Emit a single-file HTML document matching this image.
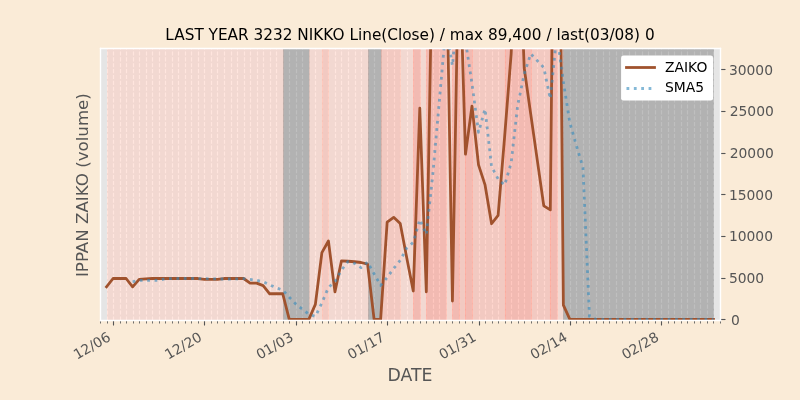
<!DOCTYPE html>
<html><head><meta charset="utf-8"><title>chart</title>
<style>html,body{margin:0;padding:0;background:#faebd7;overflow:hidden}svg{display:block}</style></head>
<body>
<svg width="800" height="400" viewBox="0 0 576 288" version="1.1">
 
 <defs>
  <style type="text/css">*{stroke-linejoin: round; stroke-linecap: butt}</style>
 </defs>
 <g id="figure_1">
  <g id="patch_1">
   <path d="M 0 288 
L 576 288 
L 576 0 
L 0 0 
z
" style="fill: #faebd7"/>
  </g>
  <g id="axes_1">
   <g id="patch_2">
    <path d="M 72 230.4 
L 518.4 230.4 
L 518.4 34.56 
L 72 34.56 
z
" style="fill: #e5e5e5"/>
   </g>
   <g id="matplotlib.axis_1">
    <g id="xtick_1">
     <g id="line2d_1">
      <path d="M 81.72 230.76 L 81.72 34.92" clip-path="url(#pfc433cfe13)" style="fill: none; stroke-dasharray: 2.96,1.28; stroke-dashoffset: 0; stroke: #ffffff; stroke-width: 0.8"/>
     </g>
     <g id="line2d_2">
      <defs>
       <path id="m0cfd308655" d="M 0.36 0.36 L 0.36 3.96" style="stroke: #555555; stroke-width: 0.8"/>
      </defs>
      <g>
       <use href="#m0cfd308655" x="81.36" y="230.4" style="fill: #555555; stroke: #555555; stroke-width: 0.8"/>
      </g>
     </g>
     <g id="text_1">
      <text style="font-size: 10px; font-family: 'DejaVu Sans', 'Liberation Sans', sans-serif; fill: #555555" transform="translate(55.4003 259.1098) rotate(-30)">12/06</text>
     </g>
    </g>
    <g id="xtick_2">
     <g id="line2d_3">
      <path d="M 147.24 230.76 L 147.24 34.92" clip-path="url(#pfc433cfe13)" style="fill: none; stroke-dasharray: 2.96,1.28; stroke-dashoffset: 0; stroke: #ffffff; stroke-width: 0.8"/>
     </g>
     <g id="line2d_4">
      <g>
       <use href="#m0cfd308655" x="146.88" y="230.4" style="fill: #555555; stroke: #555555; stroke-width: 0.8"/>
      </g>
     </g>
     <g id="text_2">
      <text style="font-size: 10px; font-family: 'DejaVu Sans', 'Liberation Sans', sans-serif; fill: #555555" transform="translate(121.1855 259.1098) rotate(-30)">12/20</text>
     </g>
    </g>
    <g id="xtick_3">
     <g id="line2d_5">
      <path d="M 213.48 230.76 L 213.48 34.92" clip-path="url(#pfc433cfe13)" style="fill: none; stroke-dasharray: 2.96,1.28; stroke-dashoffset: 0; stroke: #ffffff; stroke-width: 0.8"/>
     </g>
     <g id="line2d_6">
      <g>
       <use href="#m0cfd308655" x="213.12" y="230.4" style="fill: #555555; stroke: #555555; stroke-width: 0.8"/>
      </g>
     </g>
     <g id="text_3">
      <text style="font-size: 10px; font-family: 'DejaVu Sans', 'Liberation Sans', sans-serif; fill: #555555" transform="translate(186.9708 259.1098) rotate(-30)">01/03</text>
     </g>
    </g>
    <g id="xtick_4">
     <g id="line2d_7">
      <path d="M 279 230.76 L 279 34.92" clip-path="url(#pfc433cfe13)" style="fill: none; stroke-dasharray: 2.96,1.28; stroke-dashoffset: 0; stroke: #ffffff; stroke-width: 0.8"/>
     </g>
     <g id="line2d_8">
      <g>
       <use href="#m0cfd308655" x="278.64" y="230.4" style="fill: #555555; stroke: #555555; stroke-width: 0.8"/>
      </g>
     </g>
     <g id="text_4">
      <text style="font-size: 10px; font-family: 'DejaVu Sans', 'Liberation Sans', sans-serif; fill: #555555" transform="translate(252.7561 259.1098) rotate(-30)">01/17</text>
     </g>
    </g>
    <g id="xtick_5">
     <g id="line2d_9">
      <path d="M 345.24 230.76 L 345.24 34.92" clip-path="url(#pfc433cfe13)" style="fill: none; stroke-dasharray: 2.96,1.28; stroke-dashoffset: 0; stroke: #ffffff; stroke-width: 0.8"/>
     </g>
     <g id="line2d_10">
      <g>
       <use href="#m0cfd308655" x="344.88" y="230.4" style="fill: #555555; stroke: #555555; stroke-width: 0.8"/>
      </g>
     </g>
     <g id="text_5">
      <text style="font-size: 10px; font-family: 'DejaVu Sans', 'Liberation Sans', sans-serif; fill: #555555" transform="translate(318.5413 259.1098) rotate(-30)">01/31</text>
     </g>
    </g>
    <g id="xtick_6">
     <g id="line2d_11">
      <path d="M 410.76 230.76 L 410.76 34.92" clip-path="url(#pfc433cfe13)" style="fill: none; stroke-dasharray: 2.96,1.28; stroke-dashoffset: 0; stroke: #ffffff; stroke-width: 0.8"/>
     </g>
     <g id="line2d_12">
      <g>
       <use href="#m0cfd308655" x="410.4" y="230.4" style="fill: #555555; stroke: #555555; stroke-width: 0.8"/>
      </g>
     </g>
     <g id="text_6">
      <text style="font-size: 10px; font-family: 'DejaVu Sans', 'Liberation Sans', sans-serif; fill: #555555" transform="translate(384.3266 259.1098) rotate(-30)">02/14</text>
     </g>
    </g>
    <g id="xtick_7">
     <g id="line2d_13">
      <path d="M 476.28 230.76 L 476.28 34.92" clip-path="url(#pfc433cfe13)" style="fill: none; stroke-dasharray: 2.96,1.28; stroke-dashoffset: 0; stroke: #ffffff; stroke-width: 0.8"/>
     </g>
     <g id="line2d_14">
      <g>
       <use href="#m0cfd308655" x="475.92" y="230.4" style="fill: #555555; stroke: #555555; stroke-width: 0.8"/>
      </g>
     </g>
     <g id="text_7">
      <text style="font-size: 10px; font-family: 'DejaVu Sans', 'Liberation Sans', sans-serif; fill: #555555" transform="translate(450.1119 259.1098) rotate(-30)">02/28</text>
     </g>
    </g>
    <g id="xtick_8">
     <g id="line2d_15">
      <path d="M 72.36 230.76 L 72.36 34.92" clip-path="url(#pfc433cfe13)" style="fill: none; stroke-dasharray: 2.96,1.28; stroke-dashoffset: 0; stroke: #ffffff; stroke-width: 0.8"/>
     </g>
     <g id="line2d_16">
      <defs>
       <path id="ma7e753fbe1" d="M 0.36 0.36 L 0.36 2.52" style="stroke: #555555; stroke-width: 0.6"/>
      </defs>
      <g>
       <use href="#ma7e753fbe1" x="72" y="230.4" style="fill: #555555; stroke: #555555; stroke-width: 0.6"/>
      </g>
     </g>
    </g>
    <g id="xtick_9">
     <g id="line2d_17">
      <path d="M 77.4 230.76 L 77.4 34.92" clip-path="url(#pfc433cfe13)" style="fill: none; stroke-dasharray: 2.96,1.28; stroke-dashoffset: 0; stroke: #ffffff; stroke-width: 0.8"/>
     </g>
     <g id="line2d_18">
      <g>
       <use href="#ma7e753fbe1" x="77.04" y="230.4" style="fill: #555555; stroke: #555555; stroke-width: 0.6"/>
      </g>
     </g>
    </g>
    <g id="xtick_10">
     <g id="line2d_19">
      <path d="M 86.76 230.76 L 86.76 34.92" clip-path="url(#pfc433cfe13)" style="fill: none; stroke-dasharray: 2.96,1.28; stroke-dashoffset: 0; stroke: #ffffff; stroke-width: 0.8"/>
     </g>
     <g id="line2d_20">
      <g>
       <use href="#ma7e753fbe1" x="86.4" y="230.4" style="fill: #555555; stroke: #555555; stroke-width: 0.6"/>
      </g>
     </g>
    </g>
    <g id="xtick_11">
     <g id="line2d_21">
      <path d="M 91.08 230.76 L 91.08 34.92" clip-path="url(#pfc433cfe13)" style="fill: none; stroke-dasharray: 2.96,1.28; stroke-dashoffset: 0; stroke: #ffffff; stroke-width: 0.8"/>
     </g>
     <g id="line2d_22">
      <g>
       <use href="#ma7e753fbe1" x="90.72" y="230.4" style="fill: #555555; stroke: #555555; stroke-width: 0.6"/>
      </g>
     </g>
    </g>
    <g id="xtick_12">
     <g id="line2d_23">
      <path d="M 96.12 230.76 L 96.12 34.92" clip-path="url(#pfc433cfe13)" style="fill: none; stroke-dasharray: 2.96,1.28; stroke-dashoffset: 0; stroke: #ffffff; stroke-width: 0.8"/>
     </g>
     <g id="line2d_24">
      <g>
       <use href="#ma7e753fbe1" x="95.76" y="230.4" style="fill: #555555; stroke: #555555; stroke-width: 0.6"/>
      </g>
     </g>
    </g>
    <g id="xtick_13">
     <g id="line2d_25">
      <path d="M 100.44 230.76 L 100.44 34.92" clip-path="url(#pfc433cfe13)" style="fill: none; stroke-dasharray: 2.96,1.28; stroke-dashoffset: 0; stroke: #ffffff; stroke-width: 0.8"/>
     </g>
     <g id="line2d_26">
      <g>
       <use href="#ma7e753fbe1" x="100.08" y="230.4" style="fill: #555555; stroke: #555555; stroke-width: 0.6"/>
      </g>
     </g>
    </g>
    <g id="xtick_14">
     <g id="line2d_27">
      <path d="M 105.48 230.76 L 105.48 34.92" clip-path="url(#pfc433cfe13)" style="fill: none; stroke-dasharray: 2.96,1.28; stroke-dashoffset: 0; stroke: #ffffff; stroke-width: 0.8"/>
     </g>
     <g id="line2d_28">
      <g>
       <use href="#ma7e753fbe1" x="105.12" y="230.4" style="fill: #555555; stroke: #555555; stroke-width: 0.6"/>
      </g>
     </g>
    </g>
    <g id="xtick_15">
     <g id="line2d_29">
      <path d="M 109.8 230.76 L 109.8 34.92" clip-path="url(#pfc433cfe13)" style="fill: none; stroke-dasharray: 2.96,1.28; stroke-dashoffset: 0; stroke: #ffffff; stroke-width: 0.8"/>
     </g>
     <g id="line2d_30">
      <g>
       <use href="#ma7e753fbe1" x="109.44" y="230.4" style="fill: #555555; stroke: #555555; stroke-width: 0.6"/>
      </g>
     </g>
    </g>
    <g id="xtick_16">
     <g id="line2d_31">
      <path d="M 114.84 230.76 L 114.84 34.92" clip-path="url(#pfc433cfe13)" style="fill: none; stroke-dasharray: 2.96,1.28; stroke-dashoffset: 0; stroke: #ffffff; stroke-width: 0.8"/>
     </g>
     <g id="line2d_32">
      <g>
       <use href="#ma7e753fbe1" x="114.48" y="230.4" style="fill: #555555; stroke: #555555; stroke-width: 0.6"/>
      </g>
     </g>
    </g>
    <g id="xtick_17">
     <g id="line2d_33">
      <path d="M 119.16 230.76 L 119.16 34.92" clip-path="url(#pfc433cfe13)" style="fill: none; stroke-dasharray: 2.96,1.28; stroke-dashoffset: 0; stroke: #ffffff; stroke-width: 0.8"/>
     </g>
     <g id="line2d_34">
      <g>
       <use href="#ma7e753fbe1" x="118.8" y="230.4" style="fill: #555555; stroke: #555555; stroke-width: 0.6"/>
      </g>
     </g>
    </g>
    <g id="xtick_18">
     <g id="line2d_35">
      <path d="M 124.2 230.76 L 124.2 34.92" clip-path="url(#pfc433cfe13)" style="fill: none; stroke-dasharray: 2.96,1.28; stroke-dashoffset: 0; stroke: #ffffff; stroke-width: 0.8"/>
     </g>
     <g id="line2d_36">
      <g>
       <use href="#ma7e753fbe1" x="123.84" y="230.4" style="fill: #555555; stroke: #555555; stroke-width: 0.6"/>
      </g>
     </g>
    </g>
    <g id="xtick_19">
     <g id="line2d_37">
      <path d="M 128.52 230.76 L 128.52 34.92" clip-path="url(#pfc433cfe13)" style="fill: none; stroke-dasharray: 2.96,1.28; stroke-dashoffset: 0; stroke: #ffffff; stroke-width: 0.8"/>
     </g>
     <g id="line2d_38">
      <g>
       <use href="#ma7e753fbe1" x="128.16" y="230.4" style="fill: #555555; stroke: #555555; stroke-width: 0.6"/>
      </g>
     </g>
    </g>
    <g id="xtick_20">
     <g id="line2d_39">
      <path d="M 133.56 230.76 L 133.56 34.92" clip-path="url(#pfc433cfe13)" style="fill: none; stroke-dasharray: 2.96,1.28; stroke-dashoffset: 0; stroke: #ffffff; stroke-width: 0.8"/>
     </g>
     <g id="line2d_40">
      <g>
       <use href="#ma7e753fbe1" x="133.2" y="230.4" style="fill: #555555; stroke: #555555; stroke-width: 0.6"/>
      </g>
     </g>
    </g>
    <g id="xtick_21">
     <g id="line2d_41">
      <path d="M 137.88 230.76 L 137.88 34.92" clip-path="url(#pfc433cfe13)" style="fill: none; stroke-dasharray: 2.96,1.28; stroke-dashoffset: 0; stroke: #ffffff; stroke-width: 0.8"/>
     </g>
     <g id="line2d_42">
      <g>
       <use href="#ma7e753fbe1" x="137.52" y="230.4" style="fill: #555555; stroke: #555555; stroke-width: 0.6"/>
      </g>
     </g>
    </g>
    <g id="xtick_22">
     <g id="line2d_43">
      <path d="M 142.92 230.76 L 142.92 34.92" clip-path="url(#pfc433cfe13)" style="fill: none; stroke-dasharray: 2.96,1.28; stroke-dashoffset: 0; stroke: #ffffff; stroke-width: 0.8"/>
     </g>
     <g id="line2d_44">
      <g>
       <use href="#ma7e753fbe1" x="142.56" y="230.4" style="fill: #555555; stroke: #555555; stroke-width: 0.6"/>
      </g>
     </g>
    </g>
    <g id="xtick_23">
     <g id="line2d_45">
      <path d="M 152.28 230.76 L 152.28 34.92" clip-path="url(#pfc433cfe13)" style="fill: none; stroke-dasharray: 2.96,1.28; stroke-dashoffset: 0; stroke: #ffffff; stroke-width: 0.8"/>
     </g>
     <g id="line2d_46">
      <g>
       <use href="#ma7e753fbe1" x="151.92" y="230.4" style="fill: #555555; stroke: #555555; stroke-width: 0.6"/>
      </g>
     </g>
    </g>
    <g id="xtick_24">
     <g id="line2d_47">
      <path d="M 156.6 230.76 L 156.6 34.92" clip-path="url(#pfc433cfe13)" style="fill: none; stroke-dasharray: 2.96,1.28; stroke-dashoffset: 0; stroke: #ffffff; stroke-width: 0.8"/>
     </g>
     <g id="line2d_48">
      <g>
       <use href="#ma7e753fbe1" x="156.24" y="230.4" style="fill: #555555; stroke: #555555; stroke-width: 0.6"/>
      </g>
     </g>
    </g>
    <g id="xtick_25">
     <g id="line2d_49">
      <path d="M 161.64 230.76 L 161.64 34.92" clip-path="url(#pfc433cfe13)" style="fill: none; stroke-dasharray: 2.96,1.28; stroke-dashoffset: 0; stroke: #ffffff; stroke-width: 0.8"/>
     </g>
     <g id="line2d_50">
      <g>
       <use href="#ma7e753fbe1" x="161.28" y="230.4" style="fill: #555555; stroke: #555555; stroke-width: 0.6"/>
      </g>
     </g>
    </g>
    <g id="xtick_26">
     <g id="line2d_51">
      <path d="M 166.68 230.76 L 166.68 34.92" clip-path="url(#pfc433cfe13)" style="fill: none; stroke-dasharray: 2.96,1.28; stroke-dashoffset: 0; stroke: #ffffff; stroke-width: 0.8"/>
     </g>
     <g id="line2d_52">
      <g>
       <use href="#ma7e753fbe1" x="166.32" y="230.4" style="fill: #555555; stroke: #555555; stroke-width: 0.6"/>
      </g>
     </g>
    </g>
    <g id="xtick_27">
     <g id="line2d_53">
      <path d="M 171 230.76 L 171 34.92" clip-path="url(#pfc433cfe13)" style="fill: none; stroke-dasharray: 2.96,1.28; stroke-dashoffset: 0; stroke: #ffffff; stroke-width: 0.8"/>
     </g>
     <g id="line2d_54">
      <g>
       <use href="#ma7e753fbe1" x="170.64" y="230.4" style="fill: #555555; stroke: #555555; stroke-width: 0.6"/>
      </g>
     </g>
    </g>
    <g id="xtick_28">
     <g id="line2d_55">
      <path d="M 176.04 230.76 L 176.04 34.92" clip-path="url(#pfc433cfe13)" style="fill: none; stroke-dasharray: 2.96,1.28; stroke-dashoffset: 0; stroke: #ffffff; stroke-width: 0.8"/>
     </g>
     <g id="line2d_56">
      <g>
       <use href="#ma7e753fbe1" x="175.68" y="230.4" style="fill: #555555; stroke: #555555; stroke-width: 0.6"/>
      </g>
     </g>
    </g>
    <g id="xtick_29">
     <g id="line2d_57">
      <path d="M 180.36 230.76 L 180.36 34.92" clip-path="url(#pfc433cfe13)" style="fill: none; stroke-dasharray: 2.96,1.28; stroke-dashoffset: 0; stroke: #ffffff; stroke-width: 0.8"/>
     </g>
     <g id="line2d_58">
      <g>
       <use href="#ma7e753fbe1" x="180" y="230.4" style="fill: #555555; stroke: #555555; stroke-width: 0.6"/>
      </g>
     </g>
    </g>
    <g id="xtick_30">
     <g id="line2d_59">
      <path d="M 185.4 230.76 L 185.4 34.92" clip-path="url(#pfc433cfe13)" style="fill: none; stroke-dasharray: 2.96,1.28; stroke-dashoffset: 0; stroke: #ffffff; stroke-width: 0.8"/>
     </g>
     <g id="line2d_60">
      <g>
       <use href="#ma7e753fbe1" x="185.04" y="230.4" style="fill: #555555; stroke: #555555; stroke-width: 0.6"/>
      </g>
     </g>
    </g>
    <g id="xtick_31">
     <g id="line2d_61">
      <path d="M 189.72 230.76 L 189.72 34.92" clip-path="url(#pfc433cfe13)" style="fill: none; stroke-dasharray: 2.96,1.28; stroke-dashoffset: 0; stroke: #ffffff; stroke-width: 0.8"/>
     </g>
     <g id="line2d_62">
      <g>
       <use href="#ma7e753fbe1" x="189.36" y="230.4" style="fill: #555555; stroke: #555555; stroke-width: 0.6"/>
      </g>
     </g>
    </g>
    <g id="xtick_32">
     <g id="line2d_63">
      <path d="M 194.76 230.76 L 194.76 34.92" clip-path="url(#pfc433cfe13)" style="fill: none; stroke-dasharray: 2.96,1.28; stroke-dashoffset: 0; stroke: #ffffff; stroke-width: 0.8"/>
     </g>
     <g id="line2d_64">
      <g>
       <use href="#ma7e753fbe1" x="194.4" y="230.4" style="fill: #555555; stroke: #555555; stroke-width: 0.6"/>
      </g>
     </g>
    </g>
    <g id="xtick_33">
     <g id="line2d_65">
      <path d="M 199.08 230.76 L 199.08 34.92" clip-path="url(#pfc433cfe13)" style="fill: none; stroke-dasharray: 2.96,1.28; stroke-dashoffset: 0; stroke: #ffffff; stroke-width: 0.8"/>
     </g>
     <g id="line2d_66">
      <g>
       <use href="#ma7e753fbe1" x="198.72" y="230.4" style="fill: #555555; stroke: #555555; stroke-width: 0.6"/>
      </g>
     </g>
    </g>
    <g id="xtick_34">
     <g id="line2d_67">
      <path d="M 204.12 230.76 L 204.12 34.92" clip-path="url(#pfc433cfe13)" style="fill: none; stroke-dasharray: 2.96,1.28; stroke-dashoffset: 0; stroke: #ffffff; stroke-width: 0.8"/>
     </g>
     <g id="line2d_68">
      <g>
       <use href="#ma7e753fbe1" x="203.76" y="230.4" style="fill: #555555; stroke: #555555; stroke-width: 0.6"/>
      </g>
     </g>
    </g>
    <g id="xtick_35">
     <g id="line2d_69">
      <path d="M 208.44 230.76 L 208.44 34.92" clip-path="url(#pfc433cfe13)" style="fill: none; stroke-dasharray: 2.96,1.28; stroke-dashoffset: 0; stroke: #ffffff; stroke-width: 0.8"/>
     </g>
     <g id="line2d_70">
      <g>
       <use href="#ma7e753fbe1" x="208.08" y="230.4" style="fill: #555555; stroke: #555555; stroke-width: 0.6"/>
      </g>
     </g>
    </g>
    <g id="xtick_36">
     <g id="line2d_71">
      <path d="M 217.8 230.76 L 217.8 34.92" clip-path="url(#pfc433cfe13)" style="fill: none; stroke-dasharray: 2.96,1.28; stroke-dashoffset: 0; stroke: #ffffff; stroke-width: 0.8"/>
     </g>
     <g id="line2d_72">
      <g>
       <use href="#ma7e753fbe1" x="217.44" y="230.4" style="fill: #555555; stroke: #555555; stroke-width: 0.6"/>
      </g>
     </g>
    </g>
    <g id="xtick_37">
     <g id="line2d_73">
      <path d="M 222.84 230.76 L 222.84 34.92" clip-path="url(#pfc433cfe13)" style="fill: none; stroke-dasharray: 2.96,1.28; stroke-dashoffset: 0; stroke: #ffffff; stroke-width: 0.8"/>
     </g>
     <g id="line2d_74">
      <g>
       <use href="#ma7e753fbe1" x="222.48" y="230.4" style="fill: #555555; stroke: #555555; stroke-width: 0.6"/>
      </g>
     </g>
    </g>
    <g id="xtick_38">
     <g id="line2d_75">
      <path d="M 227.16 230.76 L 227.16 34.92" clip-path="url(#pfc433cfe13)" style="fill: none; stroke-dasharray: 2.96,1.28; stroke-dashoffset: 0; stroke: #ffffff; stroke-width: 0.8"/>
     </g>
     <g id="line2d_76">
      <g>
       <use href="#ma7e753fbe1" x="226.8" y="230.4" style="fill: #555555; stroke: #555555; stroke-width: 0.6"/>
      </g>
     </g>
    </g>
    <g id="xtick_39">
     <g id="line2d_77">
      <path d="M 232.2 230.76 L 232.2 34.92" clip-path="url(#pfc433cfe13)" style="fill: none; stroke-dasharray: 2.96,1.28; stroke-dashoffset: 0; stroke: #ffffff; stroke-width: 0.8"/>
     </g>
     <g id="line2d_78">
      <g>
       <use href="#ma7e753fbe1" x="231.84" y="230.4" style="fill: #555555; stroke: #555555; stroke-width: 0.6"/>
      </g>
     </g>
    </g>
    <g id="xtick_40">
     <g id="line2d_79">
      <path d="M 236.52 230.76 L 236.52 34.92" clip-path="url(#pfc433cfe13)" style="fill: none; stroke-dasharray: 2.96,1.28; stroke-dashoffset: 0; stroke: #ffffff; stroke-width: 0.8"/>
     </g>
     <g id="line2d_80">
      <g>
       <use href="#ma7e753fbe1" x="236.16" y="230.4" style="fill: #555555; stroke: #555555; stroke-width: 0.6"/>
      </g>
     </g>
    </g>
    <g id="xtick_41">
     <g id="line2d_81">
      <path d="M 241.56 230.76 L 241.56 34.92" clip-path="url(#pfc433cfe13)" style="fill: none; stroke-dasharray: 2.96,1.28; stroke-dashoffset: 0; stroke: #ffffff; stroke-width: 0.8"/>
     </g>
     <g id="line2d_82">
      <g>
       <use href="#ma7e753fbe1" x="241.2" y="230.4" style="fill: #555555; stroke: #555555; stroke-width: 0.6"/>
      </g>
     </g>
    </g>
    <g id="xtick_42">
     <g id="line2d_83">
      <path d="M 245.88 230.76 L 245.88 34.92" clip-path="url(#pfc433cfe13)" style="fill: none; stroke-dasharray: 2.96,1.28; stroke-dashoffset: 0; stroke: #ffffff; stroke-width: 0.8"/>
     </g>
     <g id="line2d_84">
      <g>
       <use href="#ma7e753fbe1" x="245.52" y="230.4" style="fill: #555555; stroke: #555555; stroke-width: 0.6"/>
      </g>
     </g>
    </g>
    <g id="xtick_43">
     <g id="line2d_85">
      <path d="M 250.92 230.76 L 250.92 34.92" clip-path="url(#pfc433cfe13)" style="fill: none; stroke-dasharray: 2.96,1.28; stroke-dashoffset: 0; stroke: #ffffff; stroke-width: 0.8"/>
     </g>
     <g id="line2d_86">
      <g>
       <use href="#ma7e753fbe1" x="250.56" y="230.4" style="fill: #555555; stroke: #555555; stroke-width: 0.6"/>
      </g>
     </g>
    </g>
    <g id="xtick_44">
     <g id="line2d_87">
      <path d="M 255.96 230.76 L 255.96 34.92" clip-path="url(#pfc433cfe13)" style="fill: none; stroke-dasharray: 2.96,1.28; stroke-dashoffset: 0; stroke: #ffffff; stroke-width: 0.8"/>
     </g>
     <g id="line2d_88">
      <g>
       <use href="#ma7e753fbe1" x="255.6" y="230.4" style="fill: #555555; stroke: #555555; stroke-width: 0.6"/>
      </g>
     </g>
    </g>
    <g id="xtick_45">
     <g id="line2d_89">
      <path d="M 260.28 230.76 L 260.28 34.92" clip-path="url(#pfc433cfe13)" style="fill: none; stroke-dasharray: 2.96,1.28; stroke-dashoffset: 0; stroke: #ffffff; stroke-width: 0.8"/>
     </g>
     <g id="line2d_90">
      <g>
       <use href="#ma7e753fbe1" x="259.92" y="230.4" style="fill: #555555; stroke: #555555; stroke-width: 0.6"/>
      </g>
     </g>
    </g>
    <g id="xtick_46">
     <g id="line2d_91">
      <path d="M 265.32 230.76 L 265.32 34.92" clip-path="url(#pfc433cfe13)" style="fill: none; stroke-dasharray: 2.96,1.28; stroke-dashoffset: 0; stroke: #ffffff; stroke-width: 0.8"/>
     </g>
     <g id="line2d_92">
      <g>
       <use href="#ma7e753fbe1" x="264.96" y="230.4" style="fill: #555555; stroke: #555555; stroke-width: 0.6"/>
      </g>
     </g>
    </g>
    <g id="xtick_47">
     <g id="line2d_93">
      <path d="M 269.64 230.76 L 269.64 34.92" clip-path="url(#pfc433cfe13)" style="fill: none; stroke-dasharray: 2.96,1.28; stroke-dashoffset: 0; stroke: #ffffff; stroke-width: 0.8"/>
     </g>
     <g id="line2d_94">
      <g>
       <use href="#ma7e753fbe1" x="269.28" y="230.4" style="fill: #555555; stroke: #555555; stroke-width: 0.6"/>
      </g>
     </g>
    </g>
    <g id="xtick_48">
     <g id="line2d_95">
      <path d="M 274.68 230.76 L 274.68 34.92" clip-path="url(#pfc433cfe13)" style="fill: none; stroke-dasharray: 2.96,1.28; stroke-dashoffset: 0; stroke: #ffffff; stroke-width: 0.8"/>
     </g>
     <g id="line2d_96">
      <g>
       <use href="#ma7e753fbe1" x="274.32" y="230.4" style="fill: #555555; stroke: #555555; stroke-width: 0.6"/>
      </g>
     </g>
    </g>
    <g id="xtick_49">
     <g id="line2d_97">
      <path d="M 284.04 230.76 L 284.04 34.92" clip-path="url(#pfc433cfe13)" style="fill: none; stroke-dasharray: 2.96,1.28; stroke-dashoffset: 0; stroke: #ffffff; stroke-width: 0.8"/>
     </g>
     <g id="line2d_98">
      <g>
       <use href="#ma7e753fbe1" x="283.68" y="230.4" style="fill: #555555; stroke: #555555; stroke-width: 0.6"/>
      </g>
     </g>
    </g>
    <g id="xtick_50">
     <g id="line2d_99">
      <path d="M 288.36 230.76 L 288.36 34.92" clip-path="url(#pfc433cfe13)" style="fill: none; stroke-dasharray: 2.96,1.28; stroke-dashoffset: 0; stroke: #ffffff; stroke-width: 0.8"/>
     </g>
     <g id="line2d_100">
      <g>
       <use href="#ma7e753fbe1" x="288" y="230.4" style="fill: #555555; stroke: #555555; stroke-width: 0.6"/>
      </g>
     </g>
    </g>
    <g id="xtick_51">
     <g id="line2d_101">
      <path d="M 293.4 230.76 L 293.4 34.92" clip-path="url(#pfc433cfe13)" style="fill: none; stroke-dasharray: 2.96,1.28; stroke-dashoffset: 0; stroke: #ffffff; stroke-width: 0.8"/>
     </g>
     <g id="line2d_102">
      <g>
       <use href="#ma7e753fbe1" x="293.04" y="230.4" style="fill: #555555; stroke: #555555; stroke-width: 0.6"/>
      </g>
     </g>
    </g>
    <g id="xtick_52">
     <g id="line2d_103">
      <path d="M 297.72 230.76 L 297.72 34.92" clip-path="url(#pfc433cfe13)" style="fill: none; stroke-dasharray: 2.96,1.28; stroke-dashoffset: 0; stroke: #ffffff; stroke-width: 0.8"/>
     </g>
     <g id="line2d_104">
      <g>
       <use href="#ma7e753fbe1" x="297.36" y="230.4" style="fill: #555555; stroke: #555555; stroke-width: 0.6"/>
      </g>
     </g>
    </g>
    <g id="xtick_53">
     <g id="line2d_105">
      <path d="M 302.76 230.76 L 302.76 34.92" clip-path="url(#pfc433cfe13)" style="fill: none; stroke-dasharray: 2.96,1.28; stroke-dashoffset: 0; stroke: #ffffff; stroke-width: 0.8"/>
     </g>
     <g id="line2d_106">
      <g>
       <use href="#ma7e753fbe1" x="302.4" y="230.4" style="fill: #555555; stroke: #555555; stroke-width: 0.6"/>
      </g>
     </g>
    </g>
    <g id="xtick_54">
     <g id="line2d_107">
      <path d="M 307.08 230.76 L 307.08 34.92" clip-path="url(#pfc433cfe13)" style="fill: none; stroke-dasharray: 2.96,1.28; stroke-dashoffset: 0; stroke: #ffffff; stroke-width: 0.8"/>
     </g>
     <g id="line2d_108">
      <g>
       <use href="#ma7e753fbe1" x="306.72" y="230.4" style="fill: #555555; stroke: #555555; stroke-width: 0.6"/>
      </g>
     </g>
    </g>
    <g id="xtick_55">
     <g id="line2d_109">
      <path d="M 312.12 230.76 L 312.12 34.92" clip-path="url(#pfc433cfe13)" style="fill: none; stroke-dasharray: 2.96,1.28; stroke-dashoffset: 0; stroke: #ffffff; stroke-width: 0.8"/>
     </g>
     <g id="line2d_110">
      <g>
       <use href="#ma7e753fbe1" x="311.76" y="230.4" style="fill: #555555; stroke: #555555; stroke-width: 0.6"/>
      </g>
     </g>
    </g>
    <g id="xtick_56">
     <g id="line2d_111">
      <path d="M 316.44 230.76 L 316.44 34.92" clip-path="url(#pfc433cfe13)" style="fill: none; stroke-dasharray: 2.96,1.28; stroke-dashoffset: 0; stroke: #ffffff; stroke-width: 0.8"/>
     </g>
     <g id="line2d_112">
      <g>
       <use href="#ma7e753fbe1" x="316.08" y="230.4" style="fill: #555555; stroke: #555555; stroke-width: 0.6"/>
      </g>
     </g>
    </g>
    <g id="xtick_57">
     <g id="line2d_113">
      <path d="M 321.48 230.76 L 321.48 34.92" clip-path="url(#pfc433cfe13)" style="fill: none; stroke-dasharray: 2.96,1.28; stroke-dashoffset: 0; stroke: #ffffff; stroke-width: 0.8"/>
     </g>
     <g id="line2d_114">
      <g>
       <use href="#ma7e753fbe1" x="321.12" y="230.4" style="fill: #555555; stroke: #555555; stroke-width: 0.6"/>
      </g>
     </g>
    </g>
    <g id="xtick_58">
     <g id="line2d_115">
      <path d="M 325.8 230.76 L 325.8 34.92" clip-path="url(#pfc433cfe13)" style="fill: none; stroke-dasharray: 2.96,1.28; stroke-dashoffset: 0; stroke: #ffffff; stroke-width: 0.8"/>
     </g>
     <g id="line2d_116">
      <g>
       <use href="#ma7e753fbe1" x="325.44" y="230.4" style="fill: #555555; stroke: #555555; stroke-width: 0.6"/>
      </g>
     </g>
    </g>
    <g id="xtick_59">
     <g id="line2d_117">
      <path d="M 330.84 230.76 L 330.84 34.92" clip-path="url(#pfc433cfe13)" style="fill: none; stroke-dasharray: 2.96,1.28; stroke-dashoffset: 0; stroke: #ffffff; stroke-width: 0.8"/>
     </g>
     <g id="line2d_118">
      <g>
       <use href="#ma7e753fbe1" x="330.48" y="230.4" style="fill: #555555; stroke: #555555; stroke-width: 0.6"/>
      </g>
     </g>
    </g>
    <g id="xtick_60">
     <g id="line2d_119">
      <path d="M 335.16 230.76 L 335.16 34.92" clip-path="url(#pfc433cfe13)" style="fill: none; stroke-dasharray: 2.96,1.28; stroke-dashoffset: 0; stroke: #ffffff; stroke-width: 0.8"/>
     </g>
     <g id="line2d_120">
      <g>
       <use href="#ma7e753fbe1" x="334.8" y="230.4" style="fill: #555555; stroke: #555555; stroke-width: 0.6"/>
      </g>
     </g>
    </g>
    <g id="xtick_61">
     <g id="line2d_121">
      <path d="M 340.2 230.76 L 340.2 34.92" clip-path="url(#pfc433cfe13)" style="fill: none; stroke-dasharray: 2.96,1.28; stroke-dashoffset: 0; stroke: #ffffff; stroke-width: 0.8"/>
     </g>
     <g id="line2d_122">
      <g>
       <use href="#ma7e753fbe1" x="339.84" y="230.4" style="fill: #555555; stroke: #555555; stroke-width: 0.6"/>
      </g>
     </g>
    </g>
    <g id="xtick_62">
     <g id="line2d_123">
      <path d="M 349.56 230.76 L 349.56 34.92" clip-path="url(#pfc433cfe13)" style="fill: none; stroke-dasharray: 2.96,1.28; stroke-dashoffset: 0; stroke: #ffffff; stroke-width: 0.8"/>
     </g>
     <g id="line2d_124">
      <g>
       <use href="#ma7e753fbe1" x="349.2" y="230.4" style="fill: #555555; stroke: #555555; stroke-width: 0.6"/>
      </g>
     </g>
    </g>
    <g id="xtick_63">
     <g id="line2d_125">
      <path d="M 354.6 230.76 L 354.6 34.92" clip-path="url(#pfc433cfe13)" style="fill: none; stroke-dasharray: 2.96,1.28; stroke-dashoffset: 0; stroke: #ffffff; stroke-width: 0.8"/>
     </g>
     <g id="line2d_126">
      <g>
       <use href="#ma7e753fbe1" x="354.24" y="230.4" style="fill: #555555; stroke: #555555; stroke-width: 0.6"/>
      </g>
     </g>
    </g>
    <g id="xtick_64">
     <g id="line2d_127">
      <path d="M 358.92 230.76 L 358.92 34.92" clip-path="url(#pfc433cfe13)" style="fill: none; stroke-dasharray: 2.96,1.28; stroke-dashoffset: 0; stroke: #ffffff; stroke-width: 0.8"/>
     </g>
     <g id="line2d_128">
      <g>
       <use href="#ma7e753fbe1" x="358.56" y="230.4" style="fill: #555555; stroke: #555555; stroke-width: 0.6"/>
      </g>
     </g>
    </g>
    <g id="xtick_65">
     <g id="line2d_129">
      <path d="M 363.96 230.76 L 363.96 34.92" clip-path="url(#pfc433cfe13)" style="fill: none; stroke-dasharray: 2.96,1.28; stroke-dashoffset: 0; stroke: #ffffff; stroke-width: 0.8"/>
     </g>
     <g id="line2d_130">
      <g>
       <use href="#ma7e753fbe1" x="363.6" y="230.4" style="fill: #555555; stroke: #555555; stroke-width: 0.6"/>
      </g>
     </g>
    </g>
    <g id="xtick_66">
     <g id="line2d_131">
      <path d="M 368.28 230.76 L 368.28 34.92" clip-path="url(#pfc433cfe13)" style="fill: none; stroke-dasharray: 2.96,1.28; stroke-dashoffset: 0; stroke: #ffffff; stroke-width: 0.8"/>
     </g>
     <g id="line2d_132">
      <g>
       <use href="#ma7e753fbe1" x="367.92" y="230.4" style="fill: #555555; stroke: #555555; stroke-width: 0.6"/>
      </g>
     </g>
    </g>
    <g id="xtick_67">
     <g id="line2d_133">
      <path d="M 373.32 230.76 L 373.32 34.92" clip-path="url(#pfc433cfe13)" style="fill: none; stroke-dasharray: 2.96,1.28; stroke-dashoffset: 0; stroke: #ffffff; stroke-width: 0.8"/>
     </g>
     <g id="line2d_134">
      <g>
       <use href="#ma7e753fbe1" x="372.96" y="230.4" style="fill: #555555; stroke: #555555; stroke-width: 0.6"/>
      </g>
     </g>
    </g>
    <g id="xtick_68">
     <g id="line2d_135">
      <path d="M 377.64 230.76 L 377.64 34.92" clip-path="url(#pfc433cfe13)" style="fill: none; stroke-dasharray: 2.96,1.28; stroke-dashoffset: 0; stroke: #ffffff; stroke-width: 0.8"/>
     </g>
     <g id="line2d_136">
      <g>
       <use href="#ma7e753fbe1" x="377.28" y="230.4" style="fill: #555555; stroke: #555555; stroke-width: 0.6"/>
      </g>
     </g>
    </g>
    <g id="xtick_69">
     <g id="line2d_137">
      <path d="M 382.68 230.76 L 382.68 34.92" clip-path="url(#pfc433cfe13)" style="fill: none; stroke-dasharray: 2.96,1.28; stroke-dashoffset: 0; stroke: #ffffff; stroke-width: 0.8"/>
     </g>
     <g id="line2d_138">
      <g>
       <use href="#ma7e753fbe1" x="382.32" y="230.4" style="fill: #555555; stroke: #555555; stroke-width: 0.6"/>
      </g>
     </g>
    </g>
    <g id="xtick_70">
     <g id="line2d_139">
      <path d="M 387 230.76 L 387 34.92" clip-path="url(#pfc433cfe13)" style="fill: none; stroke-dasharray: 2.96,1.28; stroke-dashoffset: 0; stroke: #ffffff; stroke-width: 0.8"/>
     </g>
     <g id="line2d_140">
      <g>
       <use href="#ma7e753fbe1" x="386.64" y="230.4" style="fill: #555555; stroke: #555555; stroke-width: 0.6"/>
      </g>
     </g>
    </g>
    <g id="xtick_71">
     <g id="line2d_141">
      <path d="M 392.04 230.76 L 392.04 34.92" clip-path="url(#pfc433cfe13)" style="fill: none; stroke-dasharray: 2.96,1.28; stroke-dashoffset: 0; stroke: #ffffff; stroke-width: 0.8"/>
     </g>
     <g id="line2d_142">
      <g>
       <use href="#ma7e753fbe1" x="391.68" y="230.4" style="fill: #555555; stroke: #555555; stroke-width: 0.6"/>
      </g>
     </g>
    </g>
    <g id="xtick_72">
     <g id="line2d_143">
      <path d="M 396.36 230.76 L 396.36 34.92" clip-path="url(#pfc433cfe13)" style="fill: none; stroke-dasharray: 2.96,1.28; stroke-dashoffset: 0; stroke: #ffffff; stroke-width: 0.8"/>
     </g>
     <g id="line2d_144">
      <g>
       <use href="#ma7e753fbe1" x="396" y="230.4" style="fill: #555555; stroke: #555555; stroke-width: 0.6"/>
      </g>
     </g>
    </g>
    <g id="xtick_73">
     <g id="line2d_145">
      <path d="M 401.4 230.76 L 401.4 34.92" clip-path="url(#pfc433cfe13)" style="fill: none; stroke-dasharray: 2.96,1.28; stroke-dashoffset: 0; stroke: #ffffff; stroke-width: 0.8"/>
     </g>
     <g id="line2d_146">
      <g>
       <use href="#ma7e753fbe1" x="401.04" y="230.4" style="fill: #555555; stroke: #555555; stroke-width: 0.6"/>
      </g>
     </g>
    </g>
    <g id="xtick_74">
     <g id="line2d_147">
      <path d="M 405.72 230.76 L 405.72 34.92" clip-path="url(#pfc433cfe13)" style="fill: none; stroke-dasharray: 2.96,1.28; stroke-dashoffset: 0; stroke: #ffffff; stroke-width: 0.8"/>
     </g>
     <g id="line2d_148">
      <g>
       <use href="#ma7e753fbe1" x="405.36" y="230.4" style="fill: #555555; stroke: #555555; stroke-width: 0.6"/>
      </g>
     </g>
    </g>
    <g id="xtick_75">
     <g id="line2d_149">
      <path d="M 415.08 230.76 L 415.08 34.92" clip-path="url(#pfc433cfe13)" style="fill: none; stroke-dasharray: 2.96,1.28; stroke-dashoffset: 0; stroke: #ffffff; stroke-width: 0.8"/>
     </g>
     <g id="line2d_150">
      <g>
       <use href="#ma7e753fbe1" x="414.72" y="230.4" style="fill: #555555; stroke: #555555; stroke-width: 0.6"/>
      </g>
     </g>
    </g>
    <g id="xtick_76">
     <g id="line2d_151">
      <path d="M 420.12 230.76 L 420.12 34.92" clip-path="url(#pfc433cfe13)" style="fill: none; stroke-dasharray: 2.96,1.28; stroke-dashoffset: 0; stroke: #ffffff; stroke-width: 0.8"/>
     </g>
     <g id="line2d_152">
      <g>
       <use href="#ma7e753fbe1" x="419.76" y="230.4" style="fill: #555555; stroke: #555555; stroke-width: 0.6"/>
      </g>
     </g>
    </g>
    <g id="xtick_77">
     <g id="line2d_153">
      <path d="M 424.44 230.76 L 424.44 34.92" clip-path="url(#pfc433cfe13)" style="fill: none; stroke-dasharray: 2.96,1.28; stroke-dashoffset: 0; stroke: #ffffff; stroke-width: 0.8"/>
     </g>
     <g id="line2d_154">
      <g>
       <use href="#ma7e753fbe1" x="424.08" y="230.4" style="fill: #555555; stroke: #555555; stroke-width: 0.6"/>
      </g>
     </g>
    </g>
    <g id="xtick_78">
     <g id="line2d_155">
      <path d="M 429.48 230.76 L 429.48 34.92" clip-path="url(#pfc433cfe13)" style="fill: none; stroke-dasharray: 2.96,1.28; stroke-dashoffset: 0; stroke: #ffffff; stroke-width: 0.8"/>
     </g>
     <g id="line2d_156">
      <g>
       <use href="#ma7e753fbe1" x="429.12" y="230.4" style="fill: #555555; stroke: #555555; stroke-width: 0.6"/>
      </g>
     </g>
    </g>
    <g id="xtick_79">
     <g id="line2d_157">
      <path d="M 434.52 230.76 L 434.52 34.92" clip-path="url(#pfc433cfe13)" style="fill: none; stroke-dasharray: 2.96,1.28; stroke-dashoffset: 0; stroke: #ffffff; stroke-width: 0.8"/>
     </g>
     <g id="line2d_158">
      <g>
       <use href="#ma7e753fbe1" x="434.16" y="230.4" style="fill: #555555; stroke: #555555; stroke-width: 0.6"/>
      </g>
     </g>
    </g>
    <g id="xtick_80">
     <g id="line2d_159">
      <path d="M 438.84 230.76 L 438.84 34.92" clip-path="url(#pfc433cfe13)" style="fill: none; stroke-dasharray: 2.96,1.28; stroke-dashoffset: 0; stroke: #ffffff; stroke-width: 0.8"/>
     </g>
     <g id="line2d_160">
      <g>
       <use href="#ma7e753fbe1" x="438.48" y="230.4" style="fill: #555555; stroke: #555555; stroke-width: 0.6"/>
      </g>
     </g>
    </g>
    <g id="xtick_81">
     <g id="line2d_161">
      <path d="M 443.88 230.76 L 443.88 34.92" clip-path="url(#pfc433cfe13)" style="fill: none; stroke-dasharray: 2.96,1.28; stroke-dashoffset: 0; stroke: #ffffff; stroke-width: 0.8"/>
     </g>
     <g id="line2d_162">
      <g>
       <use href="#ma7e753fbe1" x="443.52" y="230.4" style="fill: #555555; stroke: #555555; stroke-width: 0.6"/>
      </g>
     </g>
    </g>
    <g id="xtick_82">
     <g id="line2d_163">
      <path d="M 448.2 230.76 L 448.2 34.92" clip-path="url(#pfc433cfe13)" style="fill: none; stroke-dasharray: 2.96,1.28; stroke-dashoffset: 0; stroke: #ffffff; stroke-width: 0.8"/>
     </g>
     <g id="line2d_164">
      <g>
       <use href="#ma7e753fbe1" x="447.84" y="230.4" style="fill: #555555; stroke: #555555; stroke-width: 0.6"/>
      </g>
     </g>
    </g>
    <g id="xtick_83">
     <g id="line2d_165">
      <path d="M 453.24 230.76 L 453.24 34.92" clip-path="url(#pfc433cfe13)" style="fill: none; stroke-dasharray: 2.96,1.28; stroke-dashoffset: 0; stroke: #ffffff; stroke-width: 0.8"/>
     </g>
     <g id="line2d_166">
      <g>
       <use href="#ma7e753fbe1" x="452.88" y="230.4" style="fill: #555555; stroke: #555555; stroke-width: 0.6"/>
      </g>
     </g>
    </g>
    <g id="xtick_84">
     <g id="line2d_167">
      <path d="M 457.56 230.76 L 457.56 34.92" clip-path="url(#pfc433cfe13)" style="fill: none; stroke-dasharray: 2.96,1.28; stroke-dashoffset: 0; stroke: #ffffff; stroke-width: 0.8"/>
     </g>
     <g id="line2d_168">
      <g>
       <use href="#ma7e753fbe1" x="457.2" y="230.4" style="fill: #555555; stroke: #555555; stroke-width: 0.6"/>
      </g>
     </g>
    </g>
    <g id="xtick_85">
     <g id="line2d_169">
      <path d="M 462.6 230.76 L 462.6 34.92" clip-path="url(#pfc433cfe13)" style="fill: none; stroke-dasharray: 2.96,1.28; stroke-dashoffset: 0; stroke: #ffffff; stroke-width: 0.8"/>
     </g>
     <g id="line2d_170">
      <g>
       <use href="#ma7e753fbe1" x="462.24" y="230.4" style="fill: #555555; stroke: #555555; stroke-width: 0.6"/>
      </g>
     </g>
    </g>
    <g id="xtick_86">
     <g id="line2d_171">
      <path d="M 466.92 230.76 L 466.92 34.92" clip-path="url(#pfc433cfe13)" style="fill: none; stroke-dasharray: 2.96,1.28; stroke-dashoffset: 0; stroke: #ffffff; stroke-width: 0.8"/>
     </g>
     <g id="line2d_172">
      <g>
       <use href="#ma7e753fbe1" x="466.56" y="230.4" style="fill: #555555; stroke: #555555; stroke-width: 0.6"/>
      </g>
     </g>
    </g>
    <g id="xtick_87">
     <g id="line2d_173">
      <path d="M 471.96 230.76 L 471.96 34.92" clip-path="url(#pfc433cfe13)" style="fill: none; stroke-dasharray: 2.96,1.28; stroke-dashoffset: 0; stroke: #ffffff; stroke-width: 0.8"/>
     </g>
     <g id="line2d_174">
      <g>
       <use href="#ma7e753fbe1" x="471.6" y="230.4" style="fill: #555555; stroke: #555555; stroke-width: 0.6"/>
      </g>
     </g>
    </g>
    <g id="xtick_88">
     <g id="line2d_175">
      <path d="M 481.32 230.76 L 481.32 34.92" clip-path="url(#pfc433cfe13)" style="fill: none; stroke-dasharray: 2.96,1.28; stroke-dashoffset: 0; stroke: #ffffff; stroke-width: 0.8"/>
     </g>
     <g id="line2d_176">
      <g>
       <use href="#ma7e753fbe1" x="480.96" y="230.4" style="fill: #555555; stroke: #555555; stroke-width: 0.6"/>
      </g>
     </g>
    </g>
    <g id="xtick_89">
     <g id="line2d_177">
      <path d="M 485.64 230.76 L 485.64 34.92" clip-path="url(#pfc433cfe13)" style="fill: none; stroke-dasharray: 2.96,1.28; stroke-dashoffset: 0; stroke: #ffffff; stroke-width: 0.8"/>
     </g>
     <g id="line2d_178">
      <g>
       <use href="#ma7e753fbe1" x="485.28" y="230.4" style="fill: #555555; stroke: #555555; stroke-width: 0.6"/>
      </g>
     </g>
    </g>
    <g id="xtick_90">
     <g id="line2d_179">
      <path d="M 490.68 230.76 L 490.68 34.92" clip-path="url(#pfc433cfe13)" style="fill: none; stroke-dasharray: 2.96,1.28; stroke-dashoffset: 0; stroke: #ffffff; stroke-width: 0.8"/>
     </g>
     <g id="line2d_180">
      <g>
       <use href="#ma7e753fbe1" x="490.32" y="230.4" style="fill: #555555; stroke: #555555; stroke-width: 0.6"/>
      </g>
     </g>
    </g>
    <g id="xtick_91">
     <g id="line2d_181">
      <path d="M 495 230.76 L 495 34.92" clip-path="url(#pfc433cfe13)" style="fill: none; stroke-dasharray: 2.96,1.28; stroke-dashoffset: 0; stroke: #ffffff; stroke-width: 0.8"/>
     </g>
     <g id="line2d_182">
      <g>
       <use href="#ma7e753fbe1" x="494.64" y="230.4" style="fill: #555555; stroke: #555555; stroke-width: 0.6"/>
      </g>
     </g>
    </g>
    <g id="xtick_92">
     <g id="line2d_183">
      <path d="M 500.04 230.76 L 500.04 34.92" clip-path="url(#pfc433cfe13)" style="fill: none; stroke-dasharray: 2.96,1.28; stroke-dashoffset: 0; stroke: #ffffff; stroke-width: 0.8"/>
     </g>
     <g id="line2d_184">
      <g>
       <use href="#ma7e753fbe1" x="499.68" y="230.4" style="fill: #555555; stroke: #555555; stroke-width: 0.6"/>
      </g>
     </g>
    </g>
    <g id="xtick_93">
     <g id="line2d_185">
      <path d="M 504.36 230.76 L 504.36 34.92" clip-path="url(#pfc433cfe13)" style="fill: none; stroke-dasharray: 2.96,1.28; stroke-dashoffset: 0; stroke: #ffffff; stroke-width: 0.8"/>
     </g>
     <g id="line2d_186">
      <g>
       <use href="#ma7e753fbe1" x="504" y="230.4" style="fill: #555555; stroke: #555555; stroke-width: 0.6"/>
      </g>
     </g>
    </g>
    <g id="xtick_94">
     <g id="line2d_187">
      <path d="M 509.4 230.76 L 509.4 34.92" clip-path="url(#pfc433cfe13)" style="fill: none; stroke-dasharray: 2.96,1.28; stroke-dashoffset: 0; stroke: #ffffff; stroke-width: 0.8"/>
     </g>
     <g id="line2d_188">
      <g>
       <use href="#ma7e753fbe1" x="509.04" y="230.4" style="fill: #555555; stroke: #555555; stroke-width: 0.6"/>
      </g>
     </g>
    </g>
    <g id="xtick_95">
     <g id="line2d_189">
      <path d="M 513.72 230.76 L 513.72 34.92" clip-path="url(#pfc433cfe13)" style="fill: none; stroke-dasharray: 2.96,1.28; stroke-dashoffset: 0; stroke: #ffffff; stroke-width: 0.8"/>
     </g>
     <g id="line2d_190">
      <g>
       <use href="#ma7e753fbe1" x="513.36" y="230.4" style="fill: #555555; stroke: #555555; stroke-width: 0.6"/>
      </g>
     </g>
    </g>
    <g id="xtick_96">
     <g id="line2d_191">
      <path d="M 518.76 230.76 L 518.76 34.92" clip-path="url(#pfc433cfe13)" style="fill: none; stroke-dasharray: 2.96,1.28; stroke-dashoffset: 0; stroke: #ffffff; stroke-width: 0.8"/>
     </g>
     <g id="line2d_192">
      <g>
       <use href="#ma7e753fbe1" x="518.4" y="230.4" style="fill: #555555; stroke: #555555; stroke-width: 0.6"/>
      </g>
     </g>
    </g>
    <g id="text_8">
     <text style="font-size: 12.45px; font-family: 'DejaVu Sans', 'Liberation Sans', sans-serif; text-anchor: middle; fill: #555555" x="295.2" y="274.159" transform="rotate(-0 295.2 274.159)">DATE</text>
    </g>
   </g>
   <g id="matplotlib.axis_2">
    <g id="ytick_1">
     <g id="line2d_193">
      <defs>
       <path id="m66731d6de5" d="M 0.36 0.36 L 3.96 0.36" style="stroke: #555555; stroke-width: 0.8"/>
      </defs>
      <g>
       <use href="#m66731d6de5" x="518.4" y="229.68" style="fill: #555555; stroke: #555555; stroke-width: 0.8"/>
      </g>
     </g>
     <g id="text_9">
      <text style="font-size: 10px; font-family: 'DejaVu Sans', 'Liberation Sans', sans-serif; text-anchor: start; fill: #555555" x="526.3" y="233.7311" transform="rotate(-0 526.3 233.7311)">0</text>
     </g>
    </g>
    <g id="ytick_2">
     <g id="line2d_194">
      <g>
       <use href="#m66731d6de5" x="518.4" y="200.16" style="fill: #555555; stroke: #555555; stroke-width: 0.8"/>
      </g>
     </g>
     <g id="text_10">
      <text style="font-size: 10px; font-family: 'DejaVu Sans', 'Liberation Sans', sans-serif; text-anchor: start; fill: #555555" x="524.8" y="203.4247" transform="rotate(-0 524.8 203.4247)">5000</text>
     </g>
    </g>
    <g id="ytick_3">
     <g id="line2d_195">
      <g>
       <use href="#m66731d6de5" x="518.4" y="169.92" style="fill: #555555; stroke: #555555; stroke-width: 0.8"/>
      </g>
     </g>
     <g id="text_11">
      <text style="font-size: 10px; font-family: 'DejaVu Sans', 'Liberation Sans', sans-serif; text-anchor: start; fill: #555555" x="524.8" y="173.4182" transform="rotate(-0 524.8 173.4182)">10000</text>
     </g>
    </g>
    <g id="ytick_4">
     <g id="line2d_196">
      <g>
       <use href="#m66731d6de5" x="518.4" y="139.68" style="fill: #555555; stroke: #555555; stroke-width: 0.8"/>
      </g>
     </g>
     <g id="text_12">
      <text style="font-size: 10px; font-family: 'DejaVu Sans', 'Liberation Sans', sans-serif; text-anchor: start; fill: #555555" x="524.8" y="143.7118" transform="rotate(-0 524.8 143.7118)">15000</text>
     </g>
    </g>
    <g id="ytick_5">
     <g id="line2d_197">
      <g>
       <use href="#m66731d6de5" x="518.4" y="110.16" style="fill: #555555; stroke: #555555; stroke-width: 0.8"/>
      </g>
     </g>
     <g id="text_13">
      <text style="font-size: 10px; font-family: 'DejaVu Sans', 'Liberation Sans', sans-serif; text-anchor: start; fill: #555555" x="525.4" y="113.4054" transform="rotate(-0 525.4 113.4054)">20000</text>
     </g>
    </g>
    <g id="ytick_6">
     <g id="line2d_198">
      <g>
       <use href="#m66731d6de5" x="518.4" y="79.92" style="fill: #555555; stroke: #555555; stroke-width: 0.8"/>
      </g>
     </g>
     <g id="text_14">
      <text style="font-size: 10px; font-family: 'DejaVu Sans', 'Liberation Sans', sans-serif; text-anchor: start; fill: #555555" x="525.4" y="83.3989" transform="rotate(-0 525.4 83.3989)">25000</text>
     </g>
    </g>
    <g id="ytick_7">
     <g id="line2d_199">
      <g>
       <use href="#m66731d6de5" x="518.4" y="49.68" style="fill: #555555; stroke: #555555; stroke-width: 0.8"/>
      </g>
     </g>
     <g id="text_15">
      <text style="font-size: 10px; font-family: 'DejaVu Sans', 'Liberation Sans', sans-serif; text-anchor: start; fill: #555555" x="524.8" y="53.6925" transform="rotate(-0 524.8 53.6925)">30000</text>
     </g>
    </g>
    <g id="text_16">
     <text style="font-size: 12px; font-family: 'DejaVu Sans', 'Liberation Sans', sans-serif; text-anchor: middle; fill: #555555" x="63.5044" y="133.28" transform="rotate(-90 63.5044 133.28)">IPPAN ZAIKO (volume)</text>
    </g>
   </g>
   <g id="patch_3">
    <path d="M 77.4 230.76 L 204.12 230.76 L 204.12 34.92 L 77.4 34.92 z" clip-path="url(#pfc433cfe13)" style="fill: #ffcbbd; fill-opacity: 0.5; stroke-opacity: 0.5; stroke: #ffcbbd; stroke-width: 0.5; stroke-linejoin: miter"/>
   </g>
   <g id="patch_4">
    <path d="M 204.12 230.76 L 222.84 230.76 L 222.84 34.92 L 204.12 34.92 z" clip-path="url(#pfc433cfe13)" style="fill: #808080; fill-opacity: 0.5; stroke-opacity: 0.5; stroke: #808080; stroke-width: 0.5; stroke-linejoin: miter"/>
   </g>
   <g id="patch_5">
    <path d="M 222.84 230.76 L 232.2 230.76 L 232.2 34.92 L 222.84 34.92 z" clip-path="url(#pfc433cfe13)" style="fill: #ffcbbd; fill-opacity: 0.5; stroke-opacity: 0.5; stroke: #ffcbbd; stroke-width: 0.5; stroke-linejoin: miter"/>
   </g>
   <g id="patch_6">
    <path d="M 232.2 230.76 L 236.52 230.76 L 236.52 34.92 L 232.2 34.92 z" clip-path="url(#pfc433cfe13)" style="fill: #ffad9d; fill-opacity: 0.5; stroke-opacity: 0.5; stroke: #ffad9d; stroke-width: 0.5; stroke-linejoin: miter"/>
   </g>
   <g id="patch_7">
    <path d="M 236.52 230.76 L 265.32 230.76 L 265.32 34.92 L 236.52 34.92 z" clip-path="url(#pfc433cfe13)" style="fill: #ffcbbd; fill-opacity: 0.5; stroke-opacity: 0.5; stroke: #ffcbbd; stroke-width: 0.5; stroke-linejoin: miter"/>
   </g>
   <g id="patch_8">
    <path d="M 265.32 230.76 L 274.68 230.76 L 274.68 34.92 L 265.32 34.92 z" clip-path="url(#pfc433cfe13)" style="fill: #808080; fill-opacity: 0.5; stroke-opacity: 0.5; stroke: #808080; stroke-width: 0.5; stroke-linejoin: miter"/>
   </g>
   <g id="patch_9">
    <path d="M 274.68 230.76 L 288.36 230.76 L 288.36 34.92 L 274.68 34.92 z" clip-path="url(#pfc433cfe13)" style="fill: #ffad9d; fill-opacity: 0.5; stroke-opacity: 0.5; stroke: #ffad9d; stroke-width: 0.5; stroke-linejoin: miter"/>
   </g>
   <g id="patch_10">
    <path d="M 288.36 230.76 L 297.72 230.76 L 297.72 34.92 L 288.36 34.92 z" clip-path="url(#pfc433cfe13)" style="fill: #ffcbbd; fill-opacity: 0.5; stroke-opacity: 0.5; stroke: #ffcbbd; stroke-width: 0.5; stroke-linejoin: miter"/>
   </g>
   <g id="patch_11">
    <path d="M 297.72 230.76 L 302.76 230.76 L 302.76 34.92 L 297.72 34.92 z" clip-path="url(#pfc433cfe13)" style="fill: #ff8f7f; fill-opacity: 0.5; stroke-opacity: 0.5; stroke: #ff8f7f; stroke-width: 0.5; stroke-linejoin: miter"/>
   </g>
   <g id="patch_12">
    <path d="M 302.76 230.76 L 307.08 230.76 L 307.08 34.92 L 302.76 34.92 z" clip-path="url(#pfc433cfe13)" style="fill: #ffcbbd; fill-opacity: 0.5; stroke-opacity: 0.5; stroke: #ffcbbd; stroke-width: 0.5; stroke-linejoin: miter"/>
   </g>
   <g id="patch_13">
    <path d="M 307.08 230.76 L 321.48 230.76 L 321.48 34.92 L 307.08 34.92 z" clip-path="url(#pfc433cfe13)" style="fill: #ff8f7f; fill-opacity: 0.5; stroke-opacity: 0.5; stroke: #ff8f7f; stroke-width: 0.5; stroke-linejoin: miter"/>
   </g>
   <g id="patch_14">
    <path d="M 321.48 230.76 L 325.8 230.76 L 325.8 34.92 L 321.48 34.92 z" clip-path="url(#pfc433cfe13)" style="fill: #ffcbbd; fill-opacity: 0.5; stroke-opacity: 0.5; stroke: #ffcbbd; stroke-width: 0.5; stroke-linejoin: miter"/>
   </g>
   <g id="patch_15">
    <path d="M 325.8 230.76 L 330.84 230.76 L 330.84 34.92 L 325.8 34.92 z" clip-path="url(#pfc433cfe13)" style="fill: #ff8f7f; fill-opacity: 0.5; stroke-opacity: 0.5; stroke: #ff8f7f; stroke-width: 0.5; stroke-linejoin: miter"/>
   </g>
   <g id="patch_16">
    <path d="M 330.84 230.76 L 335.16 230.76 L 335.16 34.92 L 330.84 34.92 z" clip-path="url(#pfc433cfe13)" style="fill: #ffad9d; fill-opacity: 0.5; stroke-opacity: 0.5; stroke: #ffad9d; stroke-width: 0.5; stroke-linejoin: miter"/>
   </g>
   <g id="patch_17">
    <path d="M 335.16 230.76 L 340.2 230.76 L 340.2 34.92 L 335.16 34.92 z" clip-path="url(#pfc433cfe13)" style="fill: #ff8f7f; fill-opacity: 0.5; stroke-opacity: 0.5; stroke: #ff8f7f; stroke-width: 0.5; stroke-linejoin: miter"/>
   </g>
   <g id="patch_18">
    <path d="M 340.2 230.76 L 363.96 230.76 L 363.96 34.92 L 340.2 34.92 z" clip-path="url(#pfc433cfe13)" style="fill: #ffad9d; fill-opacity: 0.5; stroke-opacity: 0.5; stroke: #ffad9d; stroke-width: 0.5; stroke-linejoin: miter"/>
   </g>
   <g id="patch_19">
    <path d="M 363.96 230.76 L 382.68 230.76 L 382.68 34.92 L 363.96 34.92 z" clip-path="url(#pfc433cfe13)" style="fill: #ff8f7f; fill-opacity: 0.5; stroke-opacity: 0.5; stroke: #ff8f7f; stroke-width: 0.5; stroke-linejoin: miter"/>
   </g>
   <g id="patch_20">
    <path d="M 382.68 230.76 L 396.36 230.76 L 396.36 34.92 L 382.68 34.92 z" clip-path="url(#pfc433cfe13)" style="fill: #ffad9d; fill-opacity: 0.5; stroke-opacity: 0.5; stroke: #ffad9d; stroke-width: 0.5; stroke-linejoin: miter"/>
   </g>
   <g id="patch_21">
    <path d="M 396.36 230.76 L 401.4 230.76 L 401.4 34.92 L 396.36 34.92 z" clip-path="url(#pfc433cfe13)" style="fill: #ff8f7f; fill-opacity: 0.5; stroke-opacity: 0.5; stroke: #ff8f7f; stroke-width: 0.5; stroke-linejoin: miter"/>
   </g>
   <g id="patch_22">
    <path d="M 401.4 230.76 L 405.72 230.76 L 405.72 34.92 L 401.4 34.92 z" clip-path="url(#pfc433cfe13)" style="fill: #ffcbbd; fill-opacity: 0.5; stroke-opacity: 0.5; stroke: #ffcbbd; stroke-width: 0.5; stroke-linejoin: miter"/>
   </g>
   <g id="patch_23">
    <path d="M 405.72 230.76 L 513.72 230.76 L 513.72 34.92 L 405.72 34.92 z" clip-path="url(#pfc433cfe13)" style="fill: #808080; fill-opacity: 0.5; stroke-opacity: 0.5; stroke: #808080; stroke-width: 0.5; stroke-linejoin: miter"/>
   </g>
   <g id="line2d_200">
    <path d="M 76.698947 206.52688 
L 81.397895 200.525593 
L 86.096842 200.525593 
L 90.795789 200.525593 
L 95.494737 206.52688 
L 100.193684 201.125722 
L 104.892632 200.825657 
L 109.591579 200.525593 
L 114.290526 200.525593 
L 118.989474 200.525593 
L 123.688421 200.525593 
L 128.387368 200.525593 
L 133.086316 200.525593 
L 137.785263 200.525593 
L 142.484211 200.525593 
L 147.183158 201.125722 
L 151.882105 201.125722 
L 156.581053 201.125722 
L 161.28 200.525593 
L 165.978947 200.525593 
L 170.677895 200.525593 
L 175.376842 200.525593 
L 180.075789 203.826301 
L 184.774737 203.826301 
L 189.473684 205.626687 
L 194.172632 211.507948 
L 198.871579 211.507948 
L 203.570526 211.507948 
L 208.269474 229.9319 
L 212.968421 229.9319 
L 217.667368 229.9319 
L 222.366316 229.9319 
L 227.065263 219.129583 
L 231.764211 181.921603 
L 236.463158 173.519801 
L 241.162105 210.127652 
L 245.861053 187.802865 
L 250.56 188.102929 
L 255.258947 188.463006 
L 259.957895 189.003122 
L 264.656842 190.203379 
L 269.355789 229.9319 
L 274.054737 229.9319 
L 278.753684 159.89688 
L 283.452632 156.476146 
L 288.151579 160.977112 
L 292.850526 185.522376 
L 297.549474 209.527524 
L 302.248421 77.919299 
L 306.947368 210.127652 
L 310.66055 -1 
M 321.989753 -1 
L 325.743158 216.729068 
L 329.625637 -1 
M 331.805265 -1 
L 335.141053 111.046403 
L 339.84 76.358964 
L 344.538947 118.728051 
L 349.237895 133.13114 
L 353.936842 161.097137 
L 358.635789 155.09585 
L 363.334737 98.443701 
L 368.033684 38.790907 
L 369.677794 -1 
M 375.535981 -1 
L 377.431579 48.993095 
L 382.130526 82.180213 
L 391.528421 148.254383 
L 396.227368 151.135001 
L 397.789191 -1 
M 403.654577 -1 
L 405.625263 219.729712 
L 410.324211 229.9319 
L 415.023158 229.9319 
L 419.722105 229.9319 
L 424.421053 229.9319 
L 429.12 229.9319 
L 433.818947 229.9319 
L 438.517895 229.9319 
L 443.216842 229.9319 
L 447.915789 229.9319 
L 452.614737 229.9319 
L 457.313684 229.9319 
L 462.012632 229.9319 
L 466.711579 229.9319 
L 471.410526 229.9319 
L 476.109474 229.9319 
L 480.808421 229.9319 
L 485.507368 229.9319 
L 490.206316 229.9319 
L 494.905263 229.9319 
L 499.604211 229.9319 
L 504.303158 229.9319 
L 509.002105 229.9319 
L 513.701053 229.9319 
" clip-path="url(#pfc433cfe13)" style="fill: none; stroke: #a0522d; stroke-width: 2; stroke-linecap: square"/>
   </g>
   <g id="line2d_201">
    <path d="M 95.494737 202.926108 
L 100.193684 201.845876 
L 104.892632 201.905889 
L 109.591579 201.905889 
L 114.290526 201.905889 
L 118.989474 200.705632 
L 123.688421 200.585606 
L 128.387368 200.525593 
L 133.086316 200.525593 
L 137.785263 200.525593 
L 142.484211 200.525593 
L 147.183158 200.645619 
L 151.882105 200.765645 
L 156.581053 200.88567 
L 161.28 200.88567 
L 165.978947 200.88567 
L 170.677895 200.765645 
L 175.376842 200.645619 
L 180.075789 201.185735 
L 184.774737 201.845876 
L 189.473684 202.866095 
L 194.172632 205.062566 
L 198.871579 207.259037 
L 203.570526 208.795367 
L 208.269474 214.016486 
L 212.968421 218.877529 
L 217.667368 222.562319 
L 222.366316 226.247109 
L 227.065263 227.771436 
L 231.764211 218.169377 
L 236.463158 206.886957 
L 241.162105 202.926108 
L 245.861053 194.500301 
L 250.56 188.29497 
L 255.258947 189.603251 
L 259.957895 192.699915 
L 264.656842 188.71506 
L 269.355789 197.140867 
L 274.054737 205.506661 
L 278.753684 199.793436 
L 283.452632 193.288041 
L 288.151579 187.442787 
L 292.850526 178.560883 
L 297.549474 174.480007 
L 302.248421 158.084491 
L 306.947368 168.814792 
L 311.646316 125.209441 
L 316.345263 72.482133 
L 321.044211 19.40675 
L 325.743158 47.168704 
L 330.148158 -1 
M 330.891369 -1 
L 335.141053 29.404894 
L 339.84 60.29952 
L 344.538947 95.215008 
L 349.237895 78.495422 
L 353.936842 120.072339 
L 358.635789 128.882228 
L 363.334737 133.299176 
L 368.033684 117.311747 
L 372.732632 75.698823 
L 377.431579 53.278014 
L 382.130526 38.694887 
L 391.528421 48.657023 
L 396.227368 71.125842 
L 400.926316 24.795906 
L 405.625263 58.943229 
L 410.324211 88.493567 
L 415.023158 104.82907 
L 419.722105 120.58845 
L 424.421053 227.891462 
L 429.12 229.9319 
L 433.818947 229.9319 
L 438.517895 229.9319 
L 443.216842 229.9319 
L 447.915789 229.9319 
L 452.614737 229.9319 
L 457.313684 229.9319 
L 462.012632 229.9319 
L 466.711579 229.9319 
L 471.410526 229.9319 
L 476.109474 229.9319 
L 480.808421 229.9319 
L 485.507368 229.9319 
L 490.206316 229.9319 
L 494.905263 229.9319 
L 499.604211 229.9319 
L 504.303158 229.9319 
L 509.002105 229.9319 
L 513.701053 229.9319 
" clip-path="url(#pfc433cfe13)" style="fill: none; stroke-dasharray: 2,3.3; stroke-dashoffset: 0; stroke: #348abd; stroke-opacity: 0.6; stroke-width: 2"/>
   </g>
   <g id="patch_24">
    <path d="M 72.36 230.76 L 72.36 34.92" style="fill: none; stroke: #ffffff; stroke-linejoin: miter; stroke-linecap: square"/>
   </g>
   <g id="patch_25">
    <path d="M 518.76 230.76 L 518.76 34.92" style="fill: none; stroke: #ffffff; stroke-linejoin: miter; stroke-linecap: square"/>
   </g>
   <g id="patch_26">
    <path d="M 72.36 230.76 L 518.76 230.76" style="fill: none; stroke: #ffffff; stroke-linejoin: miter; stroke-linecap: square"/>
   </g>
   <g id="patch_27">
    <path d="M 72.36 34.92 L 518.76 34.92" style="fill: none; stroke: #ffffff; stroke-linejoin: miter; stroke-linecap: square"/>
   </g>
   <g id="text_17">
    <text style="font-size: 11.025px; font-family: 'DejaVu Sans', 'Liberation Sans', sans-serif; text-anchor: middle" x="295.2" y="28.56" transform="rotate(-0 295.2 28.56)">LAST YEAR 3232 NIKKO Line(Close) / max 89,400 / last(03/08) 0</text>
   </g>
   <g id="legend_1">
    <g id="patch_28">
     <path d="M 448.92 72.396 L 511.704 72.396 Q 513.432 72.396 513.432 70.668 L 513.432 41.724 Q 513.432 39.996 511.704 39.996 L 448.92 39.996 Q 447.192 39.996 447.192 41.724 L 447.192 70.668 Q 447.192 72.396 448.92 72.396 z" style="fill: #ffffff"/>
    </g>
    <g id="line2d_202">
     <path d="M 451.08 48.6 L 461.16 48.6 L 471.24 48.6" style="fill: none; stroke: #a0522d; stroke-width: 2; stroke-linecap: square"/>
    </g>
    <g id="text_18">
     <text style="font-size: 10px; font-family: 'DejaVu Sans', 'Liberation Sans', sans-serif; text-anchor: start" x="478.7797" y="51.5184" transform="rotate(-0 478.7797 51.5184)">ZAIKO</text>
    </g>
    <g id="line2d_203">
     <path d="M 451.08 63.72 L 461.16 63.72 L 471.24 63.72" style="fill: none; stroke-dasharray: 2,3.3; stroke-dashoffset: 0; stroke: #348abd; stroke-opacity: 0.6; stroke-width: 2"/>
    </g>
    <g id="text_19">
     <text style="font-size: 10px; font-family: 'DejaVu Sans', 'Liberation Sans', sans-serif; text-anchor: start" x="478.7797" y="66.0166" transform="rotate(-0 478.7797 66.0166)">SMA5</text>
    </g>
   </g>
  </g>
 </g>
 <defs>
  <clipPath id="pfc433cfe13">
   <rect x="72" y="34.56" width="446.4" height="195.84"/>
  </clipPath>
 </defs>
</svg>

</body></html>
